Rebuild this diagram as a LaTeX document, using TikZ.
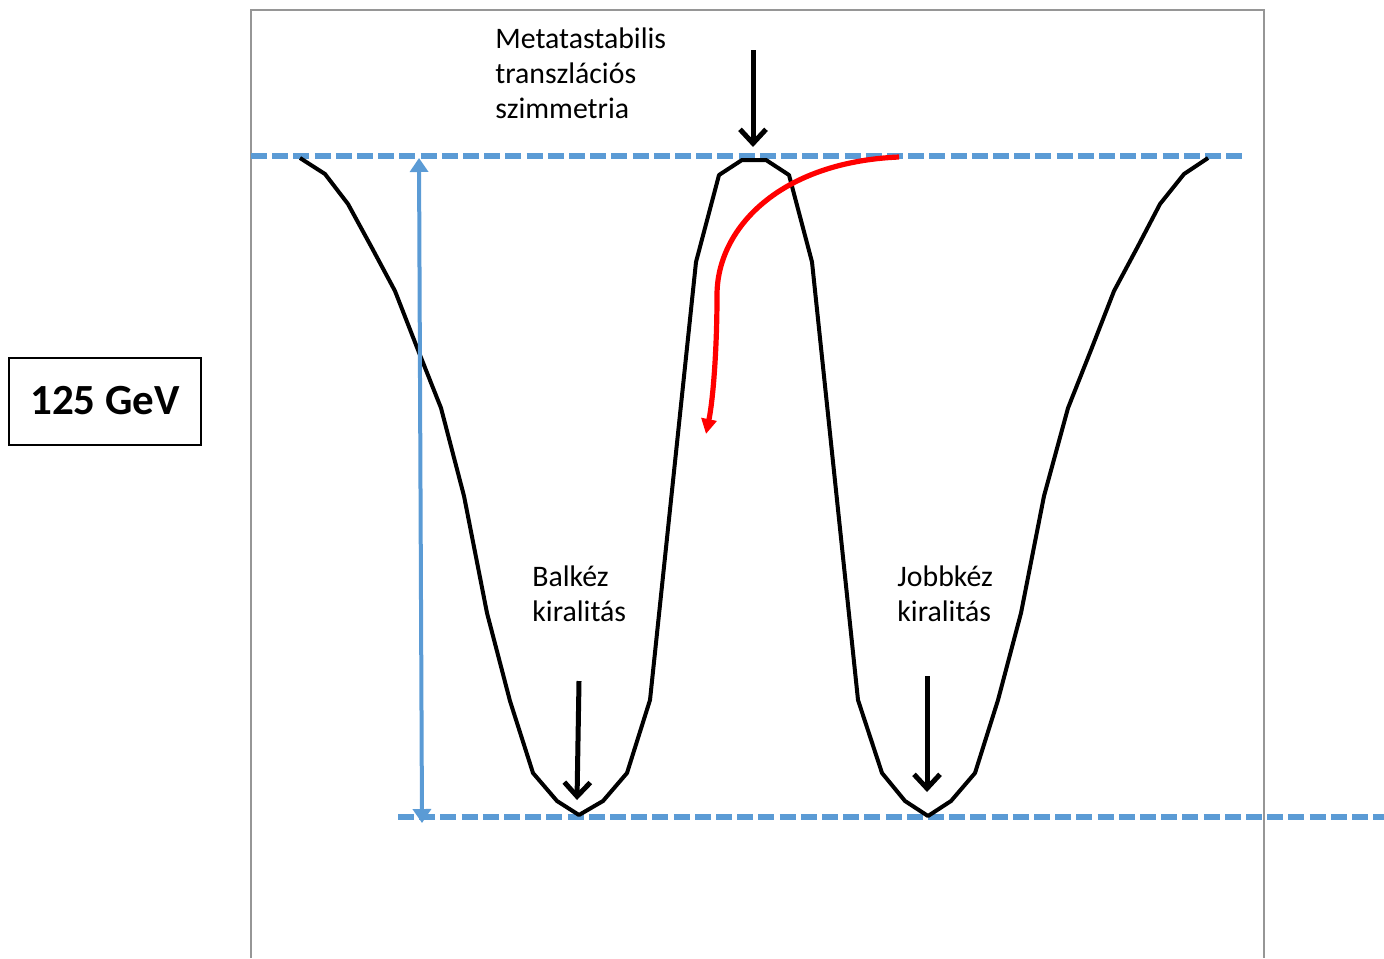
\documentclass[tikz,border=0pt]{standalone}
\usepackage{fontspec}
\setmainfont{Carlito}
\usetikzlibrary{arrows.meta, positioning}
\definecolor{levelblue}{RGB}{91,155,213}
\definecolor{framegray}{RGB}{150,150,150}
\definecolor{flowred}{RGB}{255,0,0}
\tikzset{
  note/.style={font=\fontsize{14.9}{17.5}\selectfont, align=left,
    anchor=north west, inner sep=0pt},
  energybox/.style={draw, line width=1pt, minimum width=96pt,
    minimum height=43.5pt, font=\fontsize{21.5}{25}\selectfont\bfseries},
  level/.style={levelblue, line width=2.6pt, dash pattern=on 8pt off 2.6pt},
  potential/.style={black, line width=2pt, line join=round},
  pointer/.style={-{Straight Barb[length=7pt, width=13pt]}, line width=2.5pt},
  gap/.style={{Triangle[length=7pt, width=9pt]}-{Triangle[length=7pt, width=9pt]},
    levelblue, line width=2pt},
  decay/.style={-{Triangle[length=7.5pt, width=7.5pt]}, flowred, line width=2.6pt},
}
\begin{document}
\begin{tikzpicture}[x=0.5pt, y=-0.5pt]
  \useasboundingbox (0,0) rectangle (1384,958);
  % frame
  \draw[framegray, line width=1pt] (251,958) |- (1264,10) -- (1264,958);
  % energy levels
  \draw[level] (251,156) -- (1243,156);
  \draw[level] (398,817) -- (1384,817);
  % double well potential
  \draw[potential] plot coordinates {
    (300,158) (325,174) (348,204) (372,248) (395,291) (418,350) (441,408)
    (464,496) (487,613) (510,701) (533,773) (557,801) (579,815) (603,801)
    (627,773) (650,700) (696,262) (719,175) (742,160) (766,160) (789,175)
    (812,262) (858,700) (882,773) (905,801) (928,816) (951,801) (975,773)
    (998,700) (1021,613) (1044,496) (1068,408) (1091,350) (1114,291)
    (1137,248) (1160,204) (1184,174) (1208,158)};
  % labels
  \node[energybox] (gev) at (105,401) {125 GeV};
  \node[note] (metanote) at (495,27) {Metatastabilis\\transzlációs\\szimmetria};
  \node[note] (balnote) at (532,565) {Balkéz\\kiralitás};
  \node[note] (jobbnote) at (897,565) {Jobbkéz\\kiralitás};
  % arrow ends
  \coordinate (peaktop) at (753,50);
  \coordinate (peak) at (753,147);
  \coordinate (lefttop) at (579,681);
  \coordinate (leftmin) at (577,800);
  \coordinate (righttop) at (927,676);
  \coordinate (rightmin) at (927,792);
  \coordinate (gaptop) at (419,158);
  \coordinate (gapbot) at (422,823);
  \coordinate (decaystart) at (899,157);
  \coordinate (decaybend) at (717,295);
  \coordinate (decayend) at (706,434);
  % arrows
  \draw[pointer] (peaktop) -- (peak);
  \draw[pointer] (lefttop) -- (leftmin);
  \draw[pointer] (righttop) -- (rightmin);
  \draw[gap] (gaptop) -- (gapbot);
  \draw[decay] (decaystart) .. controls (780,162) and (717,228) .. (decaybend)
    .. controls (717,350) and (713,400) .. (decayend);
\end{tikzpicture}
\end{document}
